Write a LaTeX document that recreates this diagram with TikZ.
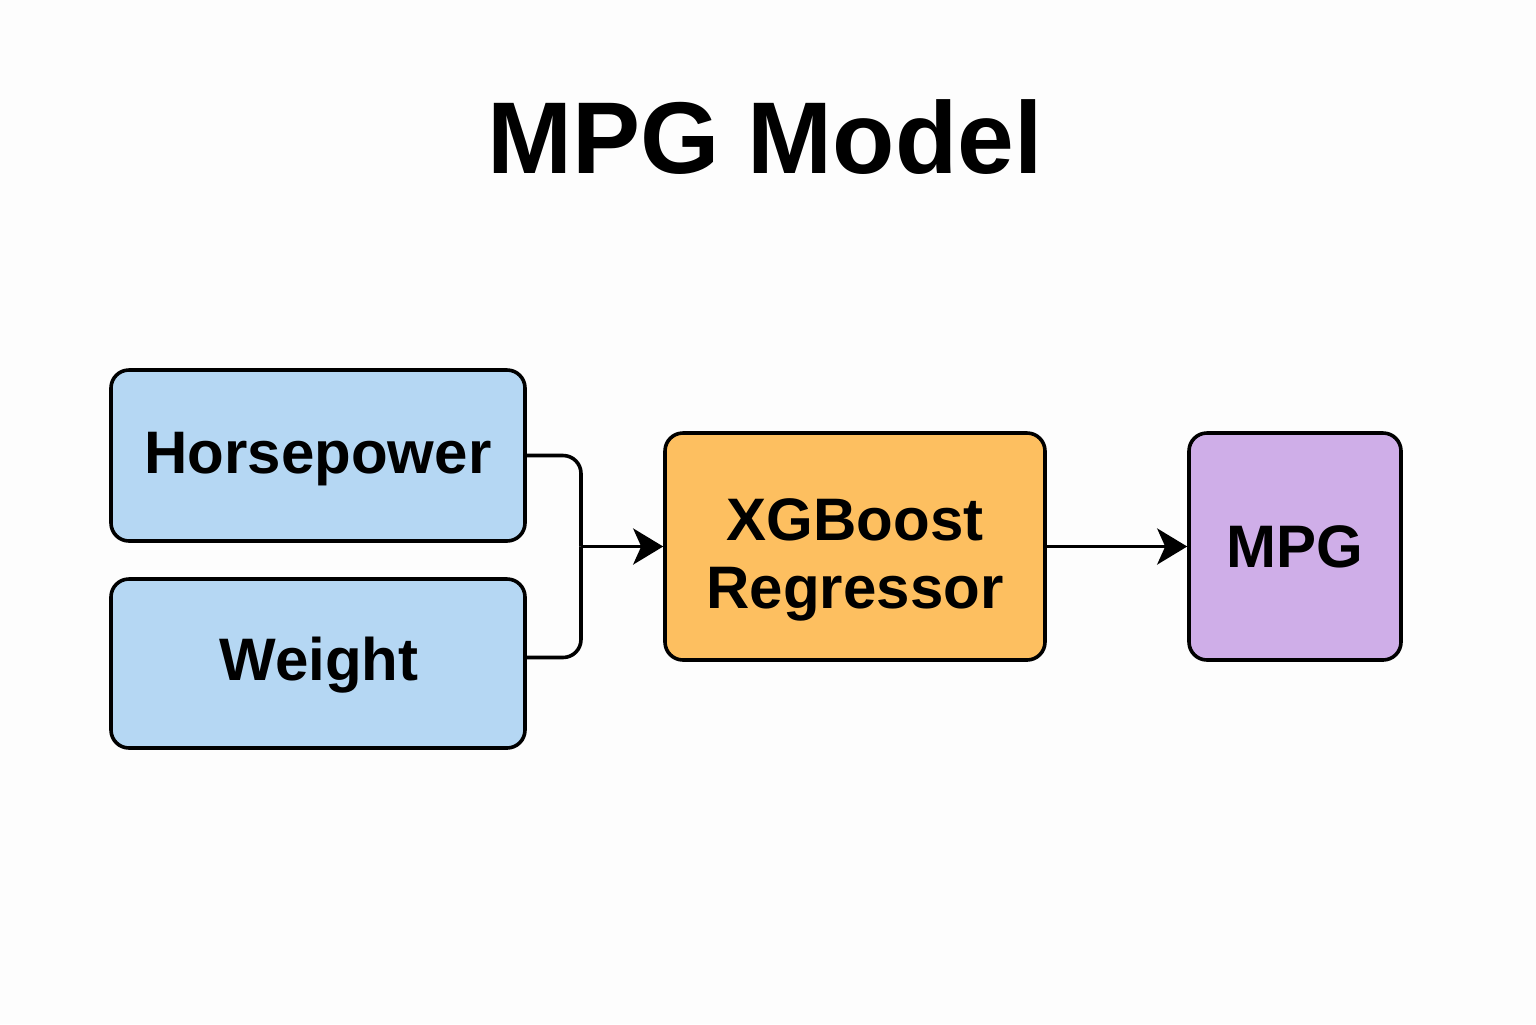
\documentclass[tikz,border=0pt]{standalone}
\usepackage{fontspec}
\setmainfont{Liberation Sans}
\usetikzlibrary{arrows.meta}
\definecolor{bluefill}{HTML}{B5D7F3}
\definecolor{orangefill}{HTML}{FDBF60}
\definecolor{purplefill}{HTML}{CFAEE8}
\definecolor{bgc}{HTML}{FDFDFD}
\tikzset{
  box/.style={draw=black, line width=1.8pt, rounded corners=9pt, align=center,
    font=\fontsize{30}{35}\selectfont\bfseries, inner sep=0pt},
  conn/.style={draw=black, line width=1.8pt},
  arr/.style={conn, -{Stealth[length=15pt,width=18pt,inset=4pt]}}
}
\begin{document}
\begin{tikzpicture}[x=0.5pt,y=-0.5pt]
\fill[bgc] (0,0) rectangle (1536,1024);
\useasboundingbox (0,0) rectangle (1536,1024);
\node (title) at (765,137) {\fontsize{51}{58}\selectfont\bfseries MPG Model};
\node[box, fill=bluefill, minimum width=207pt, minimum height=85.5pt] (hp) at (318,455.5) {};
\node[font=\fontsize{30}{35}\selectfont\bfseries] (hptext) at (318,459) {Horsepower};
\node[box, fill=bluefill, minimum width=207pt, minimum height=84.5pt] (wt) at (318,663.5) {};
\node[font=\fontsize{30}{35}\selectfont\bfseries] (wttext) at (319,665) {Weight};
\node[box, fill=orangefill, minimum width=190pt, minimum height=113.5pt] (xgb) at (855,546.5) {};
\node[font=\fontsize{30}{35}\selectfont\bfseries, align=center] (xgbtext) at (855,560) {XGBoost\\[-1pt]Regressor};
\node[box, fill=purplefill, minimum width=106pt, minimum height=113.5pt] (mpg) at (1295,546.5) {MPG};
\coordinate (j) at (581,546.5);
\draw[conn, rounded corners=9pt] (hp.east) -| (j);
\draw[conn, rounded corners=9pt] ([yshift=3pt]wt.east) -| (j);
\draw[arr] (j) -- (xgb.west);
\draw[arr] (xgb.east) -- (mpg.west);
\end{tikzpicture}
\end{document}
